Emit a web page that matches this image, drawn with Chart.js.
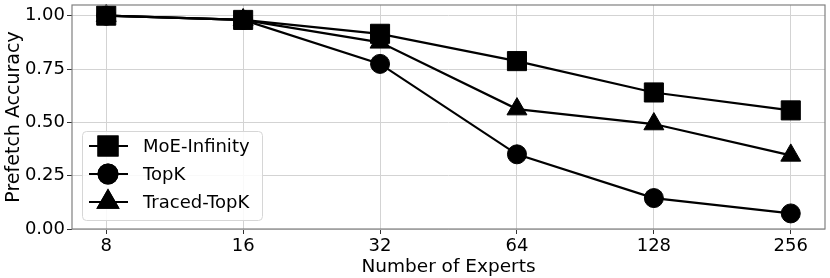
<!DOCTYPE html>
<html>
<head>
<meta charset="utf-8">
<script src="https://cdn.jsdelivr.net/npm/chart.js@4/dist/chart.umd.min.js"></script>
<style>
  html, body { margin: 0; padding: 0; background: #fff; }
  #wrap { width: 830px; height: 278px; }
</style>
</head>
<body>
<div id="wrap"><canvas id="myChart" width="830" height="278"></canvas></div>
<script>
// number of experts (evenly spaced, log2)
const experts = ['8', '16', '32', '64', '128', '256'];
const moeInfinity = [1.00, 0.98, 0.915, 0.787, 0.64, 0.556];
const topK = [1.00, 0.98, 0.774, 0.350, 0.145, 0.073];
const tracedTopK = [1.00, 0.98, 0.875, 0.562, 0.492, 0.345];
const yTicks = [0, 0.25, 0.5, 0.75, 1.0];

const FONT = 'DejaVu Sans';

function toPoints(arr) {
  return arr.map(function (v, i) { return { x: i, y: v }; });
}

const seriesStyle = [
  { label: 'MoE-Infinity', data: moeInfinity, shape: 'rect', r: 13.5 },
  { label: 'TopK', data: topK, shape: 'circle', r: 9.5 },
  { label: 'Traced-TopK', data: tracedTopK, shape: 'triangle', r: 11.5 }
];

// frame round the plot area
const framePlugin = {
  id: 'frame',
  afterDatasetsDraw(chart) {
    const a = chart.chartArea, ctx = chart.ctx;
    ctx.save();
    ctx.strokeStyle = '#808080';
    ctx.lineWidth = 1.2;
    ctx.strokeRect(a.left, a.top, a.right - a.left, a.bottom - a.top);
    ctx.restore();
  }
};

// legend drawn inside the plot, lower left
const legendPlugin = {
  id: 'insideLegend',
  afterDraw(chart) {
    const ctx = chart.ctx;
    const x0 = 82, y0 = 131, w = 180, h = 89;
    ctx.save();
    ctx.fillStyle = 'rgba(255,255,255,0.85)';
    ctx.strokeStyle = '#d6d6d6';
    ctx.lineWidth = 1;
    ctx.beginPath();
    ctx.roundRect(x0 + 0.5, y0 + 0.5, w, h, 4);
    ctx.fill();
    ctx.stroke();
    seriesStyle.forEach(function (s, i) {
      const y = 146 + i * 28;
      ctx.strokeStyle = '#000';
      ctx.lineWidth = 2;
      ctx.beginPath();
      ctx.moveTo(89, y);
      ctx.lineTo(128, y);
      ctx.stroke();
      ctx.fillStyle = '#000';
      Chart.helpers.drawPoint(ctx, { pointStyle: s.shape, radius: s.r, rotation: 0, borderWidth: 1 }, 108, y);
      ctx.fill();
      ctx.stroke();
      ctx.fillStyle = '#000';
      ctx.font = '18px "' + FONT + '"';
      ctx.textBaseline = 'middle';
      ctx.textAlign = 'left';
      ctx.fillText(s.label, 143, y + 1);
    });
    ctx.restore();
  }
};

function myLoadFunction() {
  const ctx = document.getElementById('myChart').getContext('2d');
  const myChart = new Chart(ctx, {
    type: 'line',
    data: {
      datasets: seriesStyle.map(function (s) {
        return {
          label: s.label,
          data: toPoints(s.data),
          borderColor: '#000',
          backgroundColor: '#000',
          borderWidth: 2.2,
          pointStyle: s.shape,
          pointRadius: s.r,
          pointHoverRadius: s.r,
          pointBorderWidth: 1,
          pointBackgroundColor: '#000',
          pointBorderColor: '#000',
          tension: 0,
          fill: false,
          clip: false
        };
      })
    },
    options: {
      responsive: false,
      animation: false,
      devicePixelRatio: 1,
      layout: { autoPadding: false, padding: { top: 5, right: 5, left: 0, bottom: 0 } },
      plugins: {
        legend: { display: false },
        tooltip: { enabled: false }
      },
      scales: {
        x: {
          type: 'linear',
          min: -0.25,
          max: 5.25,
          afterBuildTicks(scale) {
            scale.ticks = experts.map(function (e, i) { return { value: i }; });
          },
          afterFit(scale) {
            scale.height = 49;
            scale.paddingLeft = 0;
            scale.paddingRight = 0;
          },
          ticks: {
            color: '#000',
            font: { family: FONT, size: 18 },
            padding: 2,
            maxRotation: 0,
            callback: function (v) { return experts[v]; }
          },
          grid: { color: '#d3d3d3', lineWidth: 1, drawTicks: true, tickLength: 5, tickColor: '#333' },
          border: { display: false },
          title: {
            display: true,
            text: 'Number of Experts',
            color: '#000',
            font: { family: FONT, size: 18.5 },
            padding: { top: -7, bottom: 0 }
          }
        },
        y: {
          min: 0,
          max: 1.05,
          afterBuildTicks(scale) {
            scale.ticks = yTicks.map(function (v) { return { value: v }; });
          },
          afterFit(scale) {
            scale.width = 72;
            scale.paddingTop = 0;
            scale.paddingBottom = 0;
          },
          ticks: {
            color: '#000',
            font: { family: FONT, size: 18 },
            padding: 2,
            callback: function (v) { return v.toFixed(2); }
          },
          grid: { color: '#d3d3d3', lineWidth: 1, drawTicks: true, tickLength: 5, tickColor: '#333' },
          border: { display: false },
          title: {
            display: true,
            text: 'Prefetch Accuracy',
            color: '#000',
            font: { family: FONT, size: 19 },
            padding: { top: 3, bottom: 0 }
          }
        }
      }
    },
    plugins: [framePlugin, legendPlugin]
  });
}
document.addEventListener('DOMContentLoaded', myLoadFunction);
</script>
</body>
</html>
